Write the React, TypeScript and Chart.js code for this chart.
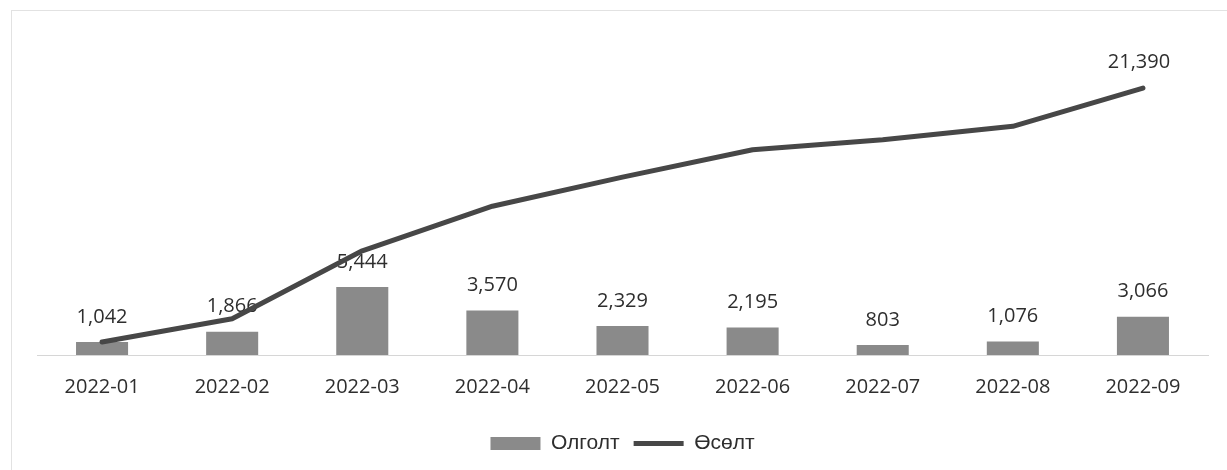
import React, { useEffect, useRef } from "react";
import { Chart, registerables } from "chart.js";

Chart.register(...registerables);

const categories = ["2022-01", "2022-02", "2022-03", "2022-04", "2022-05", "2022-06", "2022-07", "2022-08", "2022-09"];
const olgoltValues = [1042, 1866, 5444, 3570, 2329, 2195, 803, 1076, 3066];
const osoltValues = [1042, 2908, 8352, 11922, 14251, 16446, 17249, 18325, 21390];
const seriesNames = ["Олголт", "Өсөлт"];

const FONT = "'Open Sans', 'Noto Sans', sans-serif";

const fmt = (v: number) => v.toLocaleString("en-US");

const labelPlugin = {
  id: "valueLabels",
  beforeDraw(chart: any) {
    const ctx = chart.ctx;
    ctx.save();
    ctx.strokeStyle = "#e2e2e2";
    ctx.lineWidth = 1;
    ctx.strokeRect(11.5, 10.5, 1400, 600);
    ctx.restore();
  },
  afterDatasetDraw(chart: any, args: any) {
    if (args.index !== 0) return;
    const ctx = chart.ctx;
    const meta = chart.getDatasetMeta(0);
    ctx.save();
    ctx.font = `20px ${FONT}`;
    ctx.fillStyle = "#2e2e2e";
    ctx.textAlign = "center";
    ctx.textBaseline = "middle";
    meta.data.forEach((el: any, i: number) => {
      ctx.fillText(fmt(olgoltValues[i]), el.x, el.y - 25);
    });
    ctx.restore();
  },
  afterDatasetsDraw(chart: any) {
    const ctx = chart.ctx;
    const meta = chart.getDatasetMeta(1);
    const last = meta.data.length - 1;
    const el = meta.data[last];
    ctx.save();
    ctx.font = `20px ${FONT}`;
    ctx.fillStyle = "#2e2e2e";
    ctx.textAlign = "center";
    ctx.textBaseline = "middle";
    ctx.fillText(fmt(osoltValues[last]), el.x - 4, el.y - 26);
    ctx.restore();
  },
};

export default function App() {
  const ref = useRef<HTMLCanvasElement | null>(null);

  useEffect(() => {
    document.body.style.margin = "0";
    const canvas = ref.current;
    if (!canvas) return;
    const chart = new Chart(canvas, {
      type: "bar",
      data: {
        labels: categories,
        datasets: [
          {
            type: "bar",
            label: seriesNames[0],
            data: olgoltValues,
            backgroundColor: "#8a8a8a",
            borderWidth: 0,
            barPercentage: 0.8,
            categoryPercentage: 0.5,
            pointStyle: "rect",
            order: 1,
          } as any,
          {
            type: "line",
            label: seriesNames[1],
            data: osoltValues,
            borderColor: "#474747",
            backgroundColor: "#474747",
            borderWidth: 5,
            borderCapStyle: "round",
            borderJoinStyle: "round",
            pointRadius: 0,
            pointHoverRadius: 0,
            pointStyle: "line",
            tension: 0,
            order: 0,
          } as any,
        ],
      },
      options: {
        animation: false,
        responsive: false,
        devicePixelRatio: 1,
        layout: { padding: { left: 37, right: 19, top: 43, bottom: 6 } },
        plugins: {
          tooltip: { enabled: false },
          legend: {
            position: "bottom",
            labels: {
              usePointStyle: true,
              pointStyleWidth: 50,
              boxHeight: 13,
              padding: 14,
              color: "#2e2e2e",
              font: { family: "'Liberation Sans', Arial, sans-serif", size: 21 },
              sort: (a: any, b: any) => a.datasetIndex - b.datasetIndex,
            },
          },
        },
        scales: {
          x: {
            grid: { display: false, drawTicks: false },
            border: { display: true, color: "#d6d6d6", width: 1 },
            ticks: {
              padding: 20,
              color: "#2e2e2e",
              font: { family: FONT, size: 20 },
              maxRotation: 0,
            },
          },
          y: {
            display: false,
            min: 0,
            max: 25000,
          },
        },
      },
      plugins: [labelPlugin],
    });
    return () => chart.destroy();
  }, []);

  return (
    <div style={{ width: 1227, height: 470, background: "#ffffff" }}>
      <canvas ref={ref} width={1227} height={470} style={{ display: "block" }} />
    </div>
  );
}
